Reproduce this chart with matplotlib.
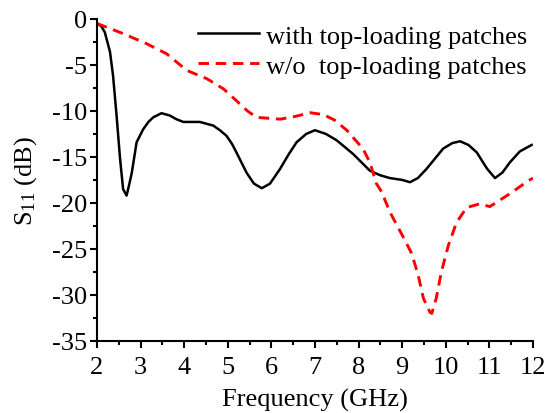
import matplotlib
matplotlib.use("Agg")
import matplotlib.pyplot as plt
from matplotlib.ticker import MultipleLocator

plt.rcParams['font.family'] = ['Liberation Serif', 'DejaVu Serif']
plt.rcParams['mathtext.fontset'] = 'custom'
plt.rcParams['mathtext.rm'] = 'Liberation Serif'
plt.rcParams['mathtext.it'] = 'Liberation Serif:italic'

# S11 with top-loading patches
freq_with = [2.0, 2.1, 2.18, 2.3, 2.37, 2.45, 2.53, 2.6, 2.68, 2.74, 2.8, 2.91, 3.06,
             3.18, 3.29, 3.48, 3.67, 3.82, 3.98, 4.36, 4.67, 4.82, 4.97, 5.1, 5.24,
             5.43, 5.6, 5.78, 5.97, 6.2, 6.4, 6.58, 6.8, 7.0, 7.25, 7.5, 7.88,
             8.26, 8.5, 8.72, 9.0, 9.18, 9.36, 9.56, 9.94, 10.15, 10.33, 10.52,
             10.71, 10.95, 11.13, 11.3, 11.47, 11.7, 11.97]
s11_with = [-0.5, -0.8, -1.45, -3.6, -6.2, -10.5, -15.2, -18.5, -19.2, -18.0, -16.7,
            -13.4, -12.0, -11.2, -10.7, -10.25, -10.5, -10.9, -11.2, -11.2, -11.6,
            -12.1, -12.7, -13.6, -14.9, -16.7, -17.9, -18.4, -17.9, -16.3, -14.7,
            -13.4, -12.5, -12.1, -12.5, -13.2, -14.7, -16.5, -17.0, -17.3, -17.5,
            -17.75, -17.3, -16.3, -14.1, -13.5, -13.3, -13.7, -14.5, -16.3, -17.3,
            -16.7, -15.6, -14.4, -13.7]

# S11 without top-loading patches
freq_wo = [2.0, 2.6, 3.14, 3.6, 4.06, 4.52, 4.9, 5.2, 5.45, 5.66, 6.2, 6.55, 6.89,
           7.19, 7.45, 7.73, 8.1, 8.26, 8.41, 8.53, 8.72, 8.99, 9.22, 9.37, 9.49,
           9.64, 9.68, 9.78, 9.9, 10.06, 10.25, 10.48, 10.78, 11.01, 11.47, 11.89,
           12.0]
s11_wo = [-0.5, -1.6, -2.7, -3.8, -5.6, -6.5, -7.6, -8.9, -10.0, -10.7, -10.9,
          -10.6, -10.2, -10.4, -11.0, -12.1, -14.1, -15.6, -17.9, -18.8, -21.0,
          -23.4, -25.5, -27.9, -30.4, -31.9, -32.0, -30.4, -27.5, -24.6, -22.1,
          -20.5, -20.1, -20.4, -19.0, -17.6, -17.3]

labels = ['with top-loading patches', 'w/o  top-loading patches']
xticks = list(range(2, 13))
yticks = [0, -5, -10, -15, -20, -25, -30, -35]

fig = plt.figure(figsize=(5.54, 4.14), dpi=100)
ax = fig.add_axes([0.175, 0.174, 0.787, 0.778])

ax.plot(freq_with, s11_with, color='black', lw=1.8, solid_joinstyle='round',
        label=labels[0])
ax.plot(freq_wo, s11_wo, color='#ff0000', lw=2.1, dashes=(3.6, 2.3),
        label=labels[1])

ax.set_xlim(2, 12)
ax.set_ylim(-35, 0)
ax.set_xticks(xticks)
ax.set_yticks(yticks)
ax.set_yticklabels([str(v) for v in yticks])
ax.xaxis.set_minor_locator(MultipleLocator(0.5))
ax.yaxis.set_minor_locator(MultipleLocator(2.5))

for side in ('top', 'right'):
    ax.spines[side].set_visible(False)
for side in ('left', 'bottom'):
    ax.spines[side].set_linewidth(1.5)

ax.tick_params(which='major', direction='out', length=5, width=1.5, labelsize=19)
ax.tick_params(axis='x', which='major', pad=6)
ax.tick_params(axis='y', which='major', pad=2)
ax.tick_params(which='minor', direction='out', length=3, width=1.5)

ax.set_xlabel('Frequency (GHz)', fontsize=19, labelpad=7)
ax.set_ylabel(r'S$_{11}$ (dB)', fontsize=19, labelpad=9)

ax.legend(loc='upper right', bbox_to_anchor=(1.0, 1.0), frameon=False,
          fontsize=19, handlelength=2.3, handletextpad=0.3, labelspacing=0.25,
          borderaxespad=0.0, borderpad=0.2)

fig.savefig('out.png', dpi=100)
